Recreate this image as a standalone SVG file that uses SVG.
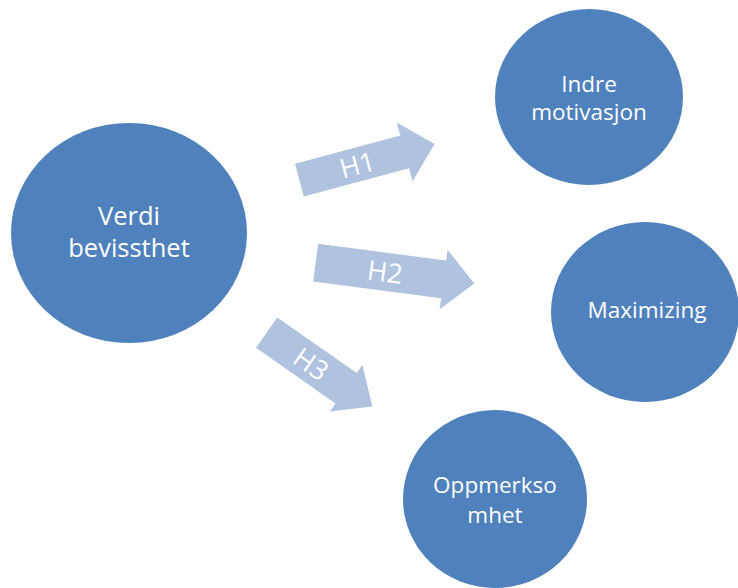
<svg xmlns="http://www.w3.org/2000/svg" width="738" height="588" viewBox="0 0 738 588">
<style>
.node{fill:#4F81BD;}
.nt{fill:#FFFFFF;font-family:"Open Sans","Liberation Sans",sans-serif;text-anchor:middle;}
.arrow{fill:#B0C3DE;}
.at{fill:#FFFFFF;font-family:"Open Sans","Liberation Sans",sans-serif;font-size:27px;text-anchor:middle;}
</style>
<rect width="738" height="588" fill="#FFFFFF"/>
<g id="connectors">
  <g id="h1" transform="translate(367,162) rotate(-15)">
    <polygon class="arrow" points="-70,-17 39,-17 39,-30.5 70,0 39,30.5 39,17 -70,17"/>
    <text class="at" x="-10" y="10">H1</text>
  </g>
  <g id="h2" transform="translate(395,273) rotate(7.5)">
    <polygon class="arrow" points="-80,-19 49,-19 49,-30 80,0 49,30 49,19 -80,19"/>
    <text class="at" x="-10" y="10">H2</text>
  </g>
  <g id="h3" transform="translate(319.5,369.6) rotate(35)">
    <polygon class="arrow" points="-64.5,-18.5 32.5,-18.5 32.5,-28.5 64.5,0 32.5,28.5 32.5,18.5 -64.5,18.5"/>
    <text class="at" x="-10" y="10">H3</text>
  </g>
</g>
<g id="verdi">
  <ellipse class="node" cx="129" cy="233" rx="118" ry="110"/>
  <text class="nt" font-size="25.5" x="129" y="225">Verdi</text>
  <text class="nt" font-size="25.5" x="129" y="257">bevissthet</text>
</g>
<g id="indre">
  <ellipse class="node" cx="589" cy="97" rx="94" ry="88"/>
  <text class="nt" font-size="22.5" x="589" y="92">Indre</text>
  <text class="nt" font-size="22.5" x="589" y="120">motivasjon</text>
</g>
<g id="maximizing">
  <ellipse class="node" cx="645" cy="312" rx="94" ry="90"/>
  <text class="nt" font-size="22.5" x="647" y="318">Maximizing</text>
</g>
<g id="oppmerksomhet">
  <ellipse class="node" cx="495" cy="499" rx="92" ry="89"/>
  <text class="nt" font-size="22.5" x="495" y="493">Oppmerkso</text>
  <text class="nt" font-size="22.5" x="495" y="523">mhet</text>
</g>
</svg>
